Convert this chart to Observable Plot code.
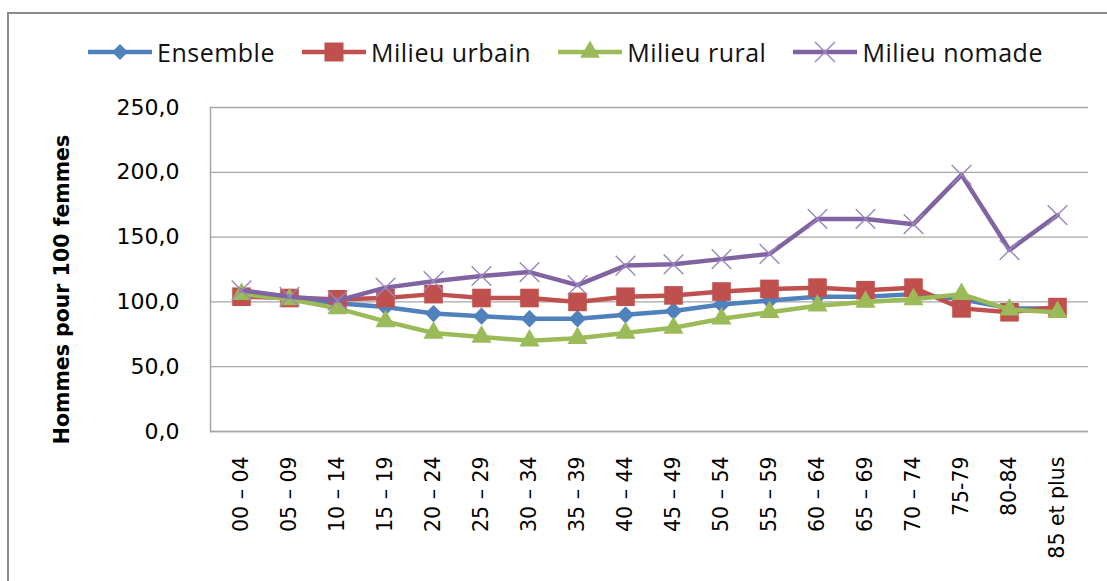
<!DOCTYPE html>
<html>
<head>
<meta charset="utf-8">
<script src="https://cdn.jsdelivr.net/npm/d3@7"></script>
<script src="https://cdn.jsdelivr.net/npm/@observablehq/plot@0.6"></script>
<style>
  html, body { margin: 0; padding: 0; background: #fff; }
  #wrap { position: relative; width: 1107px; height: 581px; overflow: hidden; background: #fff; }
  #frame { position: absolute; left: 7px; top: 12px; width: 1200px; height: 700px;
           border-top: 2px solid #8c8c8c; border-left: 2px solid #8c8c8c; }
  #legend { position: absolute; left: 88px; top: 36px; height: 32px; display: flex; align-items: center;
            font-family: "Open Sans", sans-serif; font-size: 25px; letter-spacing: 0.5px; color: #111; white-space: nowrap; }
  .item { display: flex; align-items: center; margin-right: 27px; }
  .item svg { margin-right: 5px; }
  #chart { position: absolute; left: 0; top: 0; }
</style>
</head>
<body>
<div id="wrap">
  <div id="frame"></div>
  <div id="chart"></div>
  <div id="legend"></div>
</div>
<script>
// ---- data ----
const ages = ["00 – 04","05 – 09","10 – 14","15 – 19","20 – 24","25 – 29","30 – 34","35 – 39","40 – 44","45 – 49","50 – 54","55 – 59","60 – 64","65 – 69","70 – 74","75-79","80-84","85 et plus"];
const ensemble = [106,103,99,96,91,89,87,87,90,93,98,101,104,104,106,102,95,95];
const urbain   = [104,103,102,103,106,103,103,100,104,105,108,110,111,109,111,95,92,96];
const rural    = [106,102,95,85,76,73,70,72,76,80,87,92,97,100,102,106,94,92];
const nomade   = [109,104,101,111,116,120,123,113,128,129,133,137,164,164,160,198,140,167];
const seriesNames = ["Ensemble","Milieu urbain","Milieu rural","Milieu nomade"];
const yTicks = [0,50,100,150,200,250];
const yTitle = "Hommes pour 100 femmes";

const colors = ["#4F81BD","#C0504D","#9BBB59","#8064A2"];
const symbols = ["diamond2","square","triangle","times"];
const allValues = [ensemble, urbain, rural, nomade];

const table = [];
allValues.forEach((vals, s) => vals.forEach((v, i) => table.push({serie: seriesNames[s], age: ages[i], value: v})));

const marks = [
  Plot.gridY(yTicks, {stroke: "#a6a6a6", strokeOpacity: 1, strokeWidth: 1.3}),
  Plot.frame({anchor: "left", stroke: "#a6a6a6", strokeWidth: 1.5}),
  Plot.ruleY([0], {stroke: "#a6a6a6", strokeWidth: 1.5}),
  Plot.axisY({ticks: yTicks, tickSize: 0, tickPadding: 31, fontSize: 22, label: null,
              tickFormat: d => d.toFixed(1).replace(".", ",")}),
  Plot.axisX({tickRotate: -90, tickSize: 0, tickPadding: 25, fontSize: 20.5, label: null}),
  Plot.text([yTitle], {text: d => d, frameAnchor: "left", rotate: -90, dx: -148, dy: 20,
                        fontWeight: "bold", fontSize: 20.5, fill: "#000", textAnchor: "middle"})
];
seriesNames.forEach((name, s) => {
  const data = table.filter(d => d.serie === name);
  marks.push(Plot.line(data, {x: "age", y: "value", stroke: colors[s], strokeWidth: 4.5, strokeLinejoin: "round"}));
  if (symbols[s] === "times") {
    marks.push(Plot.dot(data, {x: "age", y: "value", symbol: "times", r: 9, stroke: "#9b86bd", strokeWidth: 1.4}));
  } else {
    const r = symbols[s] === "square" ? 10.5 : symbols[s] === "triangle" ? 7.5 : 7.8;
    marks.push(Plot.dot(data, {x: "age", y: "value", symbol: symbols[s], r, fill: colors[s], stroke: "none"}));
  }
});

const chart = Plot.plot({
  width: 1107, height: 581,
  marginTop: 107, marginBottom: 150, marginLeft: 210, marginRight: 19,
  style: {background: "transparent", fontFamily: "DejaVu Sans, sans-serif", fontSize: "20px", color: "#000"},
  x: {type: "point", domain: ages, padding: 0.5},
  y: {domain: [0, 250]},
  marks
});
document.getElementById("chart").appendChild(chart);

// ---- legend (HTML) ----
const legend = d3.select("#legend");
seriesNames.forEach((name, s) => {
  const item = legend.append("div").attr("class", "item");
  const svg = item.append("svg").attr("width", 64).attr("height", 26);
  svg.append("line").attr("x1", 0).attr("x2", 64).attr("y1", 13).attr("y2", 13)
     .attr("stroke", colors[s]).attr("stroke-width", 4.5);
  const symMap = {diamond2: d3.symbolDiamond2, square: d3.symbolSquare, triangle: d3.symbolTriangle, times: d3.symbolTimes};
  const sizes = {diamond2: 163, square: 361, triangle: 170, times: 260};
  const path = svg.append("path")
     .attr("transform", "translate(32,13)")
     .attr("d", d3.symbol(symMap[symbols[s]], sizes[symbols[s]])());
  if (symbols[s] === "times") path.attr("fill", "none").attr("stroke", "#9b86bd").attr("stroke-width", 1.4);
  else path.attr("fill", colors[s]);
  item.append("span").text(name);
});
</script>
</body>
</html>
